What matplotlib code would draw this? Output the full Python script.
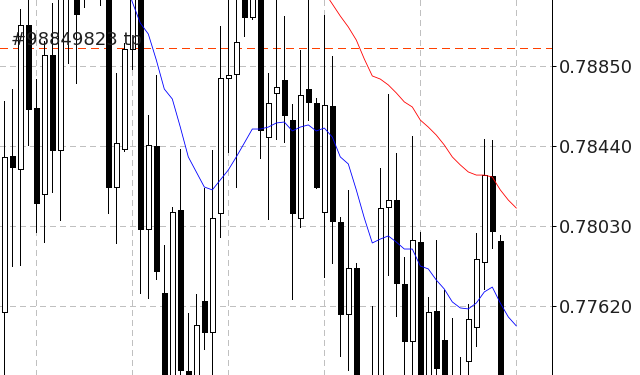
import matplotlib
matplotlib.use("Agg")
import matplotlib.pyplot as plt
import numpy as np

# ---- data ----
opens = [0.77589, 0.78389, 0.78322, 0.79060, 0.78635, 0.78194, 0.78906, 0.78420, 0.79291, 0.79393,
         0.79342, 0.79291, 0.79496, 0.79368, 0.78230, 0.78425, 0.78937, 0.79265, 0.78015, 0.78440,
         0.77687, 0.77164, 0.78112, 0.77287, 0.77215, 0.77646, 0.77487, 0.78097, 0.78789, 0.78809,
         0.79316, 0.79101, 0.79291, 0.78486, 0.78712, 0.78778, 0.78573, 0.78071, 0.78732, 0.78660,
         0.78102, 0.78645, 0.78051, 0.77579, 0.77815, 0.77190, 0.77215, 0.77164, 0.78127, 0.78163,
         0.77733, 0.77441, 0.77948, 0.77190, 0.77594, 0.77446, 0.77215, 0.77138, 0.77338, 0.77512,
         0.77846, 0.78286, 0.77953]
highs = [0.78671, 0.78732, 0.79142, 0.79214, 0.78783, 0.78978, 0.79173, 0.79419, 0.79573, 0.79470,
         0.79445, 0.79598, 0.79547, 0.79445, 0.78814, 0.78968, 0.79368, 0.79342, 0.78599, 0.78804,
         0.77933, 0.78127, 0.78425, 0.77584, 0.77681, 0.78225, 0.78420, 0.79055, 0.79240, 0.79265,
         0.79393, 0.79342, 0.79342, 0.78814, 0.79214, 0.79106, 0.78655, 0.78932, 0.79240, 0.78686,
         0.79111, 0.78901, 0.78076, 0.78215, 0.77840, 0.77241, 0.77620, 0.78327, 0.78707, 0.78404,
         0.77871, 0.78491, 0.77999, 0.77666, 0.77958, 0.77702, 0.77559, 0.77359, 0.77630, 0.77994,
         0.78476, 0.78471, 0.77984]
lows = [0.77190, 0.77825, 0.77830, 0.78445, 0.77999, 0.77948, 0.78204, 0.78061, 0.78865, 0.78763,
        0.79152, 0.79240, 0.79163, 0.78097, 0.77943, 0.78414, 0.78835, 0.77687, 0.77661, 0.77758,
        0.77036, 0.77087, 0.77164, 0.77138, 0.77164, 0.77400, 0.77241, 0.77974, 0.78409, 0.78230,
        0.79004, 0.79091, 0.78378, 0.78066, 0.78476, 0.78461, 0.77656, 0.78025, 0.78573, 0.78225,
        0.77769, 0.77840, 0.77364, 0.77292, 0.77087, 0.76985, 0.77036, 0.77113, 0.77779, 0.77569,
        0.77164, 0.77190, 0.77087, 0.77138, 0.77190, 0.77061, 0.77087, 0.77087, 0.77190, 0.77415,
        0.77707, 0.77917, 0.77087]
closes = [0.78384, 0.78332, 0.79060, 0.78630, 0.78148, 0.78906, 0.78420, 0.79342, 0.79496, 0.79117,
          0.79265, 0.79496, 0.79316, 0.78230, 0.78455, 0.78937, 0.79291, 0.78015, 0.78445, 0.77799,
          0.77138, 0.78102, 0.77292, 0.77190, 0.77523, 0.77487, 0.78071, 0.78789, 0.78804, 0.78973,
          0.79101, 0.79291, 0.78522, 0.78660, 0.78742, 0.78599, 0.78097, 0.78701, 0.78666, 0.78230,
          0.78650, 0.78056, 0.77579, 0.77815, 0.77138, 0.77036, 0.77087, 0.78122, 0.78163, 0.77738,
          0.77441, 0.77958, 0.77138, 0.77589, 0.77302, 0.77113, 0.77164, 0.77215, 0.77553, 0.77861,
          0.78291, 0.78004, 0.77138]

blue_ma_start = 15
blue_ma = [0.79316, 0.79178, 0.79070, 0.79014, 0.78881, 0.78732, 0.78681, 0.78537, 0.78384, 0.78307,
           0.78230, 0.78215, 0.78266, 0.78317, 0.78384, 0.78455, 0.78527, 0.78527, 0.78537, 0.78558,
           0.78563, 0.78517, 0.78537, 0.78548, 0.78517, 0.78532, 0.78486, 0.78384, 0.78348, 0.78215,
           0.78071, 0.77943, 0.77963, 0.77979, 0.77948, 0.77912, 0.77912, 0.77825, 0.77810, 0.77753,
           0.77707, 0.77641, 0.77610, 0.77605, 0.77635, 0.77692, 0.77717, 0.77635, 0.77564, 0.77518]

red_ma_start = 39
red_ma = [0.79342, 0.79229, 0.79168, 0.79106, 0.79050, 0.78983, 0.78886, 0.78799, 0.78783, 0.78753,
          0.78712, 0.78666, 0.78640, 0.78573, 0.78537, 0.78496, 0.78445, 0.78384, 0.78343, 0.78307,
          0.78291, 0.78291, 0.78281, 0.78215, 0.78163, 0.78122]

tp_price = 0.78941
tp_label = "#98849823 tp"
price_ticks = [0.77620, 0.78030, 0.78440, 0.78850]

# ---- figure ----
W, H = 640, 375
fig = plt.figure(figsize=(W / 100, H / 100), dpi=100)
fig.patch.set_facecolor("white")
ax = fig.add_axes([0, 0, 552 / W, 1])
ax.set_facecolor("white")

px = 0.72  # one pixel in points
thin = 0.5
x0_px, bar_px = 4.3, 8.0
ax.set_xlim((0 - x0_px) / bar_px, (552 - x0_px) / bar_px)
ax.set_ylim(0.7726637, 0.7918825)

# grid
grid_style = dict(color="#c0c0c0", lw=thin, linestyle=(0, (8.6, 5.8)), antialiased=False, zorder=0)
for p in price_ticks:
    ax.axhline(p, **grid_style)
for gx in np.arange(3.92, 70, 12):
    ax.axvline(gx, **grid_style)

# tp line and label
ax.axhline(tp_price, color="#ff4000", lw=thin, linestyle=(0, (11.5, 7.2)), antialiased=False, zorder=1)
fig.text(10.7 / W, 1 - 45 / H, tp_label, fontsize=13, color="#202020",
         family="DejaVu Sans", va="baseline", ha="left", zorder=1)

# candles
idx = np.arange(len(opens))
o = np.array(opens); c = np.array(closes); hi = np.array(highs); lo = np.array(lows)
ax.vlines(idx, lo, hi, color="black", lw=thin, antialiased=False, zorder=2)
up = c >= o
body_w = 0.56
ax.bar(idx[up], (c - o)[up], bottom=o[up], width=body_w, facecolor="white",
       edgecolor="black", linewidth=thin, antialiased=False, zorder=3)
ax.bar(idx[~up], (o - c)[~up], bottom=c[~up], width=body_w, facecolor="black",
       edgecolor="black", linewidth=thin, antialiased=False, zorder=3)

# moving averages
ax.plot(np.arange(blue_ma_start, blue_ma_start + len(blue_ma)), blue_ma,
        color="#0000ff", lw=0.6, antialiased=True, zorder=4)
ax.plot(np.arange(red_ma_start, red_ma_start + len(red_ma)), red_ma,
        color="#ff0000", lw=0.6, antialiased=True, zorder=4)

# axes styling
for s in ["left", "top", "bottom"]:
    ax.spines[s].set_visible(False)
ax.spines["right"].set_color("black")
ax.spines["right"].set_linewidth(px)
ax.spines["right"].set_antialiased(False)
ax.set_xticks([])
ax.yaxis.tick_right()
ax.set_yticks(price_ticks)
ax.set_yticklabels([f"{p:.5f}" for p in price_ticks])
ax.tick_params(axis="y", direction="out", length=3, width=px, pad=2,
               labelsize=13, labelcolor="#202020", colors="black")
for lbl in ax.get_yticklabels():
    lbl.set_family("DejaVu Sans")
    lbl.set_color("#202020")

fig.savefig("out.png", dpi=100, facecolor="white")
